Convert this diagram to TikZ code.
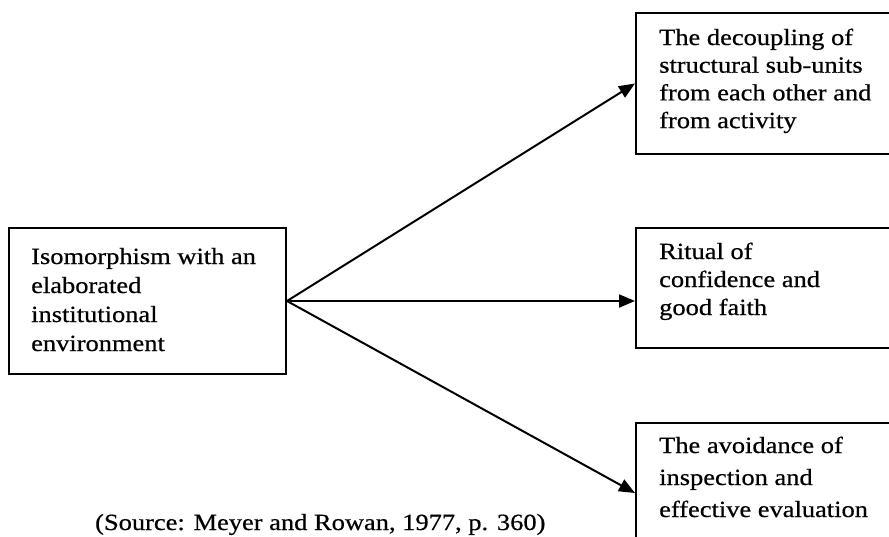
\documentclass[tikz,border=0pt]{standalone}
\usepackage{fontspec}
\setmainfont{Liberation Serif}[FakeStretch=1.14,FakeBold=0.6]
\usetikzlibrary{arrows.meta}
\newcommand{\boxlines}[2]{\parbox[t]{400pt}{\setlength{\baselineskip}{#1pt}#2}}
\begin{document}
\begin{tikzpicture}[x=1pt,y=-1pt,
  box/.style={draw, line width=2pt, rectangle, inner sep=0pt, anchor=north west},
  txt/.style={inner sep=0pt, anchor=base west, font=\fontsize{23.2}{28}\selectfont},
  conn/.style={line width=2pt, -{Triangle[length=16pt,width=13pt]}}]
\useasboundingbox (0,0) rectangle (889,536);
% boxes
\node[box, minimum width=277pt, minimum height=146pt] (src) at (8,227) {};
\node[box, minimum width=265pt, minimum height=141pt] (top) at (635,12) {};
\node[box, minimum width=265pt, minimum height=120pt] (mid) at (635,227) {};
\node[box, minimum width=265pt, minimum height=140pt] (bot) at (635,422) {};
% texts
\node[txt] (tsrc) at (31,264) {\boxlines{29}{Isomorphism with an\\elaborated\\institutional\\environment}};
\node[txt] (ttop) at (659,45) {\boxlines{27.7}{The decoupling of\\structural sub-units\\from each other and\\from activity}};
\node[txt] (tmid) at (659,259) {\boxlines{28}{Ritual of\\confidence and\\good faith}};
\node[txt] (tbot) at (659,453) {\boxlines{32}{The avoidance of\\inspection and\\effective evaluation}};
\node[txt] (source) at (95,530) {(Source: Meyer and Rowan, 1977, p. 360)};
% connectors
\draw[conn] (src.east) -- (top.west);
\draw[conn] (src.east) -- (src.east -| mid.west);
\draw[conn] (src.east) -- (bot.west);
\end{tikzpicture}
\end{document}
